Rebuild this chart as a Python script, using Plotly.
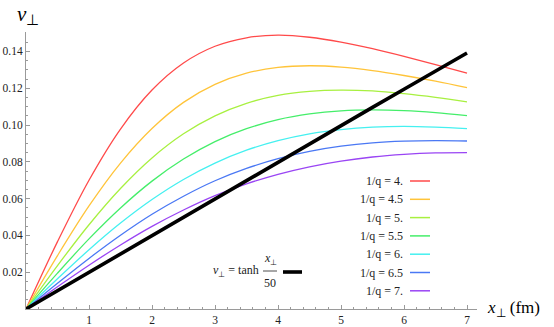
import plotly.graph_objects as go

# x_perp in fm, sampled every 0.5
x_fm = [0, 0.5, 1, 1.5, 2, 2.5, 3, 3.5, 4, 4.5, 5, 5.5, 6, 6.5, 7]

# v_perp, one list per 1/q
v_q40 = [0, 0.0366, 0.0700, 0.0978, 0.1190, 0.1337, 0.1428, 0.1474, 0.1488, 0.1477, 0.1451, 0.1415, 0.1373, 0.1328, 0.1282]
v_q45 = [0, 0.0290, 0.0560, 0.0793, 0.0981, 0.1123, 0.1221, 0.1282, 0.1313, 0.1322, 0.1315, 0.1296, 0.1269, 0.1238, 0.1203]
v_q50 = [0, 0.0236, 0.0458, 0.0655, 0.0821, 0.0952, 0.1050, 0.1118, 0.1161, 0.1183, 0.1190, 0.1185, 0.1170, 0.1150, 0.1126]
v_q55 = [0, 0.0195, 0.0381, 0.0549, 0.0695, 0.0815, 0.0910, 0.0980, 0.1029, 0.1060, 0.1077, 0.1082, 0.1078, 0.1067, 0.1051]
v_q60 = [0, 0.0164, 0.0322, 0.0467, 0.0595, 0.0704, 0.0793, 0.0863, 0.0915, 0.0952, 0.0975, 0.0988, 0.0992, 0.0988, 0.0980]
v_q65 = [0, 0.0140, 0.0275, 0.0401, 0.0515, 0.0613, 0.0697, 0.0764, 0.0817, 0.0857, 0.0885, 0.0903, 0.0912, 0.0915, 0.0913]
v_q70 = [0, 0.0121, 0.0238, 0.0348, 0.0449, 0.0538, 0.0616, 0.0680, 0.0732, 0.0773, 0.0804, 0.0826, 0.0840, 0.0848, 0.0850]
v_tanh = [0, 0.0100, 0.0200, 0.0300, 0.0400, 0.0500, 0.0599, 0.0699, 0.0798, 0.0898, 0.0997, 0.1096, 0.1194, 0.1293, 0.1391]

labels = ["1/q = 4.", "1/q = 4.5", "1/q = 5.", "1/q = 5.5", "1/q = 6.", "1/q = 6.5", "1/q = 7."]
series = [v_q40, v_q45, v_q50, v_q55, v_q60, v_q65, v_q70]
colors = ["#ff4a4a", "#ffc43a", "#a8f040", "#45ee6a", "#45f0f0", "#4a78f4", "#9a45f4"]

y_ticks = [0.02, 0.04, 0.06, 0.08, 0.10, 0.12, 0.14]
y_ticktext = ["0.02", "0.04", "0.06", "0.08", "0.10", "0.12", "0.14"]
x_ticks = [1, 2, 3, 4, 5, 6, 7]

W, H = 554, 327
L, R, T, B = 26, 477, 32, 309   # plot area in pixels
serif = "Liberation Serif"

def px(x):  # pixel -> paper x
    return (x - L) / (R - L)

def py(y):  # pixel -> paper y
    return (B - y) / (B - T)

fig = go.Figure()
for lab, v, c in zip(labels, series, colors):
    fig.add_trace(go.Scatter(x=x_fm, y=v, mode="lines", name=lab,
                             line=dict(color=c, width=1.3, shape="spline")))
fig.add_trace(go.Scatter(x=x_fm, y=v_tanh, mode="lines", name="tanh",
                         line=dict(color="black", width=3.6)))

axis_common = dict(showline=True, linecolor="#9a9a9a", linewidth=1, showgrid=False,
                   zeroline=False, ticks="inside", tickcolor="#9a9a9a", ticklen=4,
                   automargin=False,
                   tickfont=dict(family=serif, size=11.5, color="#222"))
fig.update_xaxes(range=[0, (R - L) / 63.0], tickvals=x_ticks,
                 minor=dict(dtick=0.2, tick0=0, ticks="inside", ticklen=2, tickcolor="#9a9a9a"),
                 **axis_common)
fig.update_yaxes(range=[0, (B - T) / 1840.0], tickvals=y_ticks, ticktext=y_ticktext,
                 minor=dict(dtick=0.005, tick0=0, ticks="inside", ticklen=2, tickcolor="#9a9a9a"),
                 **axis_common)

ann = []
shapes = []
# axis titles
ann.append(dict(x=px(15), y=py(15), xref="paper", yref="paper", xanchor="left", yanchor="middle",
                text="<i>v</i><sub>⊥</sub>", showarrow=False,
                font=dict(family=serif, size=21, color="black")))
ann.append(dict(x=px(485), y=py(309), xref="paper", yref="paper", xanchor="left", yanchor="middle",
                text="<i>x</i><sub>⊥</sub> (fm)", showarrow=False,
                font=dict(family=serif, size=17, color="black")))

# legend: text on the left, line sample on the right
row0, step = 181, 18.3
for i, (lab, c) in enumerate(zip(labels, colors)):
    yy = row0 + i * step
    ann.append(dict(x=px(405), y=py(yy), xref="paper", yref="paper", xanchor="right", yanchor="middle",
                    text=lab, showarrow=False, font=dict(family=serif, size=12, color="#222")))
    shapes.append(dict(type="line", xref="paper", yref="paper", x0=px(410), x1=px(430),
                       y0=py(yy), y1=py(yy), line=dict(color=c, width=1.5)))

# tanh legend with a stacked fraction
ann.append(dict(x=px(261), y=py(271), xref="paper", yref="paper", xanchor="right", yanchor="middle",
                text="<i>v</i><sub>⊥</sub> = tanh", showarrow=False,
                font=dict(family=serif, size=12, color="#222")))
ann.append(dict(x=px(270), y=py(259), xref="paper", yref="paper", xanchor="center", yanchor="middle",
                text="<i>x</i><sub>⊥</sub>", showarrow=False,
                font=dict(family=serif, size=12, color="#222")))
ann.append(dict(x=px(270), y=py(283), xref="paper", yref="paper", xanchor="center", yanchor="middle",
                text="50", showarrow=False, font=dict(family=serif, size=12, color="#222")))
shapes.append(dict(type="line", xref="paper", yref="paper", x0=px(263), x1=px(277),
                   y0=py(271), y1=py(271), line=dict(color="#222", width=0.8)))
shapes.append(dict(type="line", xref="paper", yref="paper", x0=px(283), x1=px(302),
                   y0=py(272), y1=py(272), line=dict(color="black", width=3.6)))

fig.update_layout(width=W, height=H, margin=dict(l=L, r=W - R, t=T, b=H - B),
                  font=dict(family=serif, size=12, color="#222"),
                  plot_bgcolor="white", paper_bgcolor="white", showlegend=False,
                  annotations=ann, shapes=shapes)

# the page body has a default 8px margin; drop it so the figure fills the window
fig.write_html("out.html", config={"displayModeBar": False},
               post_script="document.body.style.margin='0';")
